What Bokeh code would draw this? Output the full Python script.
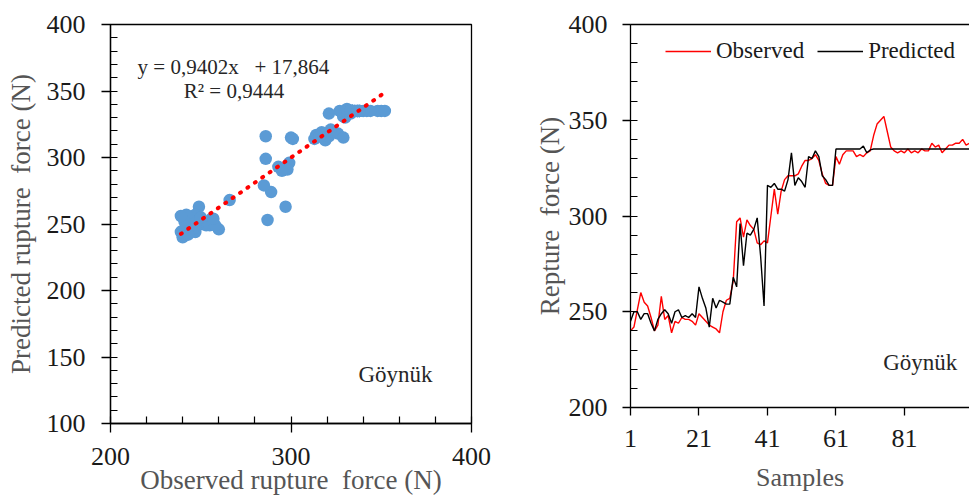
from bokeh.plotting import figure
from bokeh.models import Range1d, FixedTicker, Label, LinearAxis
from bokeh.embed import file_html
from bokeh.resources import INLINE

# ---------------- data ----------------
samples = list(range(1, 101))

observed = [
    240, 242, 251, 260, 255, 253, 247, 240, 243, 258,
    246, 248, 239, 245, 244, 247, 246, 246, 245, 243,
    249, 247, 245, 243, 242, 241, 239, 250, 256, 257,
    266, 297, 299, 289, 298, 295, 293, 286, 285, 287,
    286, 300, 314, 301, 313, 319, 321, 321, 321, 322,
    326, 329, 329, 330, 332, 329, 322, 317, 316, 316,
    331, 327, 332, 334, 334, 334, 331, 332, 331, 333,
    334, 342, 348, 350, 352, 344, 336, 334, 333, 334,
    333, 335, 333, 334, 333, 335, 334, 334, 338, 336,
    337, 333, 335, 337, 337, 338, 338, 340, 337, 338,
]

predicted = [
    245, 250, 250, 246, 249, 249, 244, 240, 246, 249,
    251, 249, 244, 250, 251, 247, 248, 247, 249, 247,
    263, 257, 252, 242, 257, 252, 256, 255, 254, 254,
    268, 263, 296, 274, 291, 290, 293, 299, 279, 253,
    316, 315, 317, 314, 314, 313, 319, 333, 316, 320,
    318, 315, 331, 330, 334, 331, 321, 319, 316, 316,
    335, 335, 335, 335, 335, 335, 335, 335, 336.5, 333,
    334.5, 335, 335, 335, 335, 335, 335, 335, 335, 335,
    335, 335, 335, 335, 335, 335, 335, 335, 335, 335,
    335, 335, 335, 335, 335, 335, 335, 335, 335, 335,
]

slope = 0.9402
intercept = 17.864
equation_text = "y = 0,9402x\u00a0\u00a0 + 17,864"
r2_text = "R\u00b2 = 0,9444"
site_text = "Göynük"

left_y_ticks = [100, 150, 200, 250, 300, 350, 400]
left_x_ticks = [200, 300, 400]
right_y_ticks = [200, 250, 300, 350, 400]
right_x_ticks = [1, 21, 41, 61, 81, 101]

FONT = "Liberation Serif"
TICK_COLOR = "#1a1a1a"
TITLE_COLOR = "#555555"


def style_axis(ax, minor_in=7):
    ax.axis_line_color = "#000000"
    ax.axis_line_width = 1.3
    ax.major_tick_line_color = "#000000"
    ax.major_tick_line_width = 1.3
    ax.minor_tick_line_color = "#000000"
    ax.minor_tick_line_width = 1.2
    ax.major_tick_out = 9
    ax.major_tick_in = 0
    ax.minor_tick_out = 0
    ax.minor_tick_in = minor_in
    ax.major_label_text_font = FONT
    ax.major_label_text_font_size = "26px"
    ax.major_label_text_color = TICK_COLOR
    ax.axis_label_text_font = FONT
    ax.axis_label_text_font_style = "normal"
    ax.axis_label_text_color = TITLE_COLOR


# ---------------- left: scatter ----------------
p1 = figure(frame_width=361, frame_height=399, output_backend="svg",
            toolbar_location=None,
            x_range=Range1d(200, 400), y_range=Range1d(100, 400),
            min_border_left=110, min_border_right=20,
            min_border_top=24, min_border_bottom=72)
p1.grid.visible = False
p1.outline_line_color = "#000000"
p1.outline_line_width = 1.3

p1.xaxis.ticker = FixedTicker(ticks=left_x_ticks, minor_ticks=list(range(200, 401, 20)))
p1.yaxis.ticker = FixedTicker(ticks=left_y_ticks, minor_ticks=list(range(100, 401, 10)))
for ax in p1.xaxis + p1.yaxis:
    style_axis(ax)
p1.xaxis.major_label_standoff = 15
p1.xaxis.axis_label = "Observed rupture\u00a0\u00a0force (N)"
p1.xaxis.axis_label_text_font_size = "27px"
p1.xaxis.axis_label_standoff = -3
p1.yaxis.major_label_standoff = 16
p1.yaxis.axis_label = "Predicted rupture\u00a0\u00a0force (N)"
p1.yaxis.axis_label_text_font_size = "27px"
p1.yaxis.axis_label_standoff = 8

p1.scatter(observed, predicted, size=12.5, fill_color="#5B9BD5", line_color=None)

trend_x = [min(observed), max(observed)]
trend_y = [slope * v + intercept for v in trend_x]
p1.line(trend_x, trend_y, line_color="#FF0000", line_width=4, line_dash="1 8",
        line_cap="round")

p1.add_layout(Label(x=215, y=368.4, text=equation_text, text_font=FONT,
                    text_font_size="21px", text_color="#262626",
                    text_baseline="middle", text_align="left"))
p1.add_layout(Label(x=240.6, y=350.0, text=r2_text, text_font=FONT,
                    text_font_size="21px", text_color="#262626",
                    text_baseline="middle", text_align="left"))
p1.add_layout(Label(x=337.4, y=137.2, text=site_text, text_font=FONT,
                    text_font_size="23px", text_color="#262626",
                    text_baseline="middle", text_align="left"))

# ---------------- right: series ----------------
p2 = figure(frame_width=339, frame_height=383, output_backend="svg",
            toolbar_location=None,
            x_range=Range1d(1, 100), y_range=Range1d(200, 400),
            min_border_left=139, min_border_right=0,
            min_border_top=24, min_border_bottom=88)
p2.grid.visible = False
p2.outline_line_color = None

p2.xaxis.ticker = FixedTicker(ticks=right_x_ticks, minor_ticks=[])
p2.yaxis.ticker = FixedTicker(ticks=right_y_ticks, minor_ticks=list(range(200, 401, 10)))
for ax in p2.xaxis + p2.yaxis:
    style_axis(ax)
p2.xaxis.minor_tick_in = 0
p2.xaxis.major_tick_out = 8
p2.yaxis.major_tick_out = 8
p2.xaxis.major_label_standoff = 14
p2.xaxis.axis_label = "Samples"
p2.xaxis.axis_label_text_font_size = "26px"
p2.xaxis.axis_label_standoff = 13
p2.yaxis.major_label_standoff = 15
p2.yaxis.axis_label = "Repture\u00a0\u00a0force (N)"
p2.yaxis.axis_label_text_font_size = "27px"
p2.yaxis.axis_label_standoff = 1

top_axis = LinearAxis(ticker=FixedTicker(ticks=[]), axis_line_color="#000000",
                      axis_line_width=1.3, major_tick_out=0, major_tick_in=0,
                      minor_tick_out=0, minor_tick_in=0)
p2.add_layout(top_axis, "above")

p2.line(samples, observed, line_color="#FF0000", line_width=1.4,
        legend_label="Observed")
p2.line(samples, predicted, line_color="#000000", line_width=1.4,
        legend_label="Predicted")

lg = p2.legend[0]
lg.location = (35, 343)
lg.orientation = "horizontal"
lg.border_line_color = None
lg.background_fill_alpha = 0
lg.padding = 0
lg.margin = 0
lg.spacing = 13
lg.glyph_width = 46
lg.label_standoff = 5
lg.label_text_font = FONT
lg.label_text_font_size = "23px"
lg.label_text_color = "#1a1a1a"

p2.add_layout(Label(x=74.8, y=223.4, text=site_text, text_font=FONT,
                    text_font_size="23px", text_color="#262626",
                    text_baseline="middle", text_align="left"))

# two independent roots side by side (no frame alignment between them)
html = file_html([p1, p2], INLINE)
css = ("<style>html, body {margin: 0; padding: 0; overflow: hidden;} "
       "body {display: flex; flex-direction: row; align-items: flex-start;}</style>")
html = html.replace("</head>", css + "</head>", 1)
open("out.html", "w").write(html)
